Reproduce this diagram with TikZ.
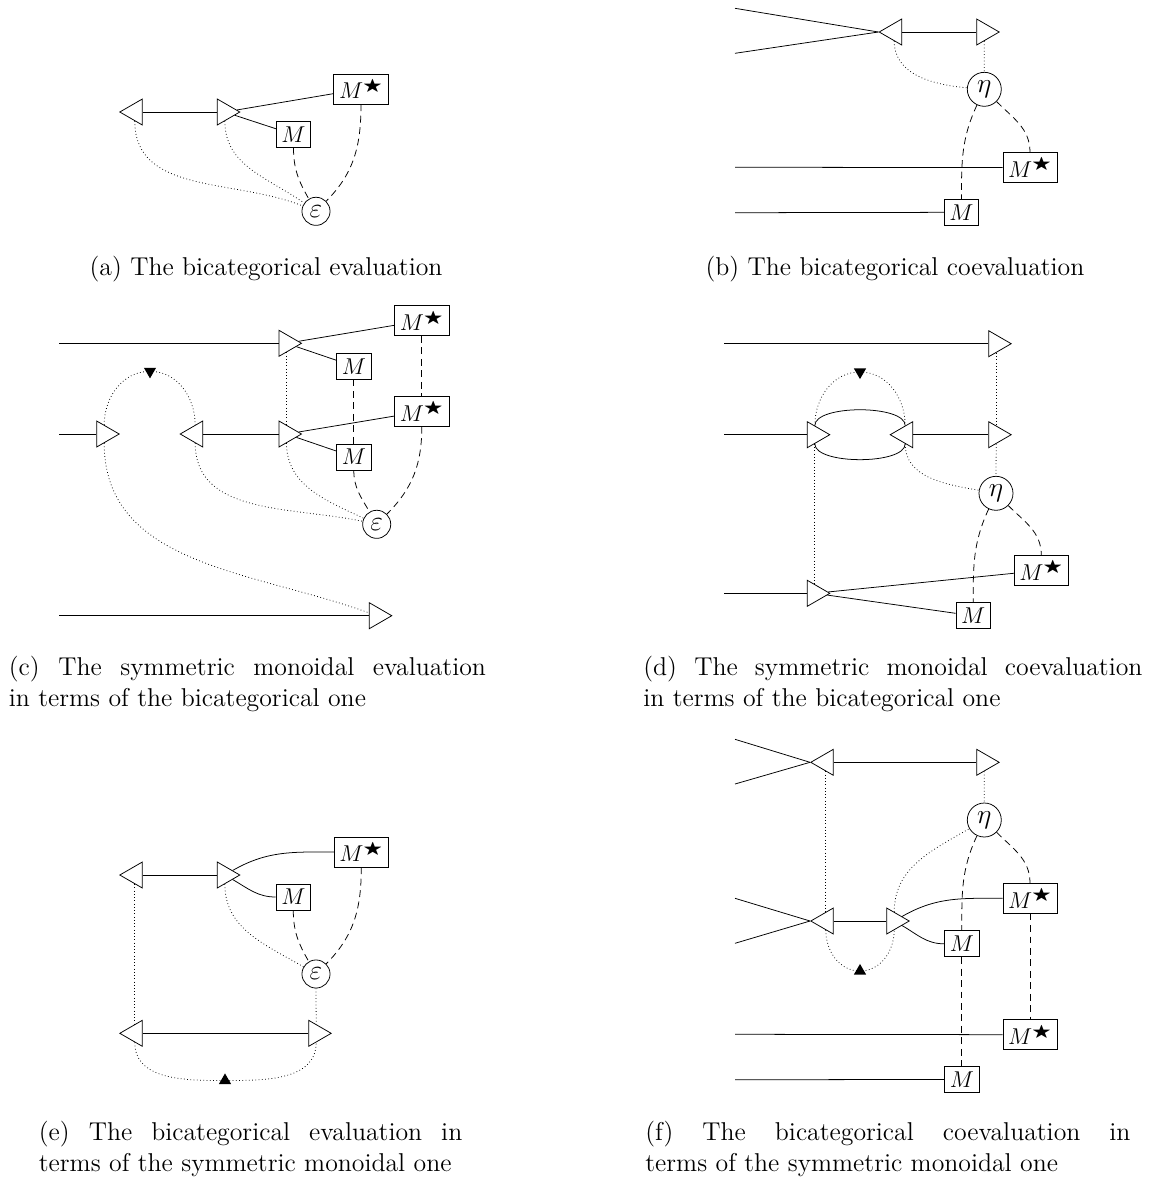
\documentclass[tikz,border=0pt]{standalone}
\usepackage{amssymb}
\usepackage{graphicx}
\usetikzlibrary{shapes.geometric}
\newcommand{\Mst}{$M^{\scalebox{1.3}[1.05]{$\scriptstyle\bigstar$}}$}
\begin{document}
\begin{tikzpicture}[x=0.5236pt, y=-0.5236pt,
  tri/.style={regular polygon, regular polygon sides=3, draw, fill=white, inner sep=0pt, minimum size=15.7pt},
  tR/.style={tri, shape border rotate=-90},
  tL/.style={tri, shape border rotate=90},
  mkdown/.style={regular polygon, regular polygon sides=3, fill=black, inner sep=0pt, minimum size=7.4pt, shape border rotate=180},
  mkup/.style={regular polygon, regular polygon sides=3, fill=black, inner sep=0pt, minimum size=7.4pt},
  box/.style={draw, fill=white, inner sep=2.7pt, font=\fontsize{11.5}{13}\selectfont},
  epsn/.style={circle, draw, fill=white, inner sep=0pt, minimum size=14.7pt, font=\fontsize{15}{15}\selectfont},
  etan/.style={circle, draw, fill=white, inner sep=0pt, minimum size=17.8pt, font=\fontsize{15}{15}\selectfont},
  dw/.style={dash pattern=on 3.6pt off 2.4pt},
  dt/.style={dash pattern=on 0.4pt off 1.3pt},
  capt/.style={font=\fontsize{13.5}{16.2}\selectfont, inner sep=0pt},
  capj/.style={capt, align=justify, anchor=north west}
]
\useasboundingbox (0,0) rectangle (1151,1180);

% ---------------- (a)
\node[tL] (LA) at (134.8,112) {};
\node[tR] (RA) at (224.8,112) {};
\node[box] (MsA) at (361,89) {\Mst};
\node[box] (MA) at (293.5,134.5) {$M$};
\node[epsn] (eA) at (316,211.3) {$\varepsilon$};
\draw (LA) -- (RA);
\draw (RA) -- (MsA);
\draw (RA) -- (MA);
\draw[dw] (MA) to[out=-90,in=120] (eA);
\draw[dw] (MsA) to[out=-90,in=45] (eA);
\draw[dt] (LA) to[out=-90,in=158] (eA);
\draw[dt] (RA) to[out=-90,in=145] (eA);
\node[capt, anchor=base] (capA) at (266,275) {(a) The bicategorical evaluation};

% ---------------- (b)
\coordinate (b1) at (735,8.3);
\coordinate (b2) at (735,53.3);
\coordinate (b3) at (735,167.3);
\coordinate (b4) at (735,212.7);
\node[tL] (LB) at (894.2,32) {};
\node[tR] (RB) at (984.2,32) {};
\node[etan] (hB) at (984.3,89.3) {$\eta$};
\node[box] (MsB) at (1030,167.5) {\Mst};
\node[box] (MB) at (961.5,212.3) {$M$};
\draw (b1) -- (LB.corner 1);
\draw (b2) -- (LB.corner 1);
\draw (LB) -- (RB);
\draw[dt] (RB) -- (hB);
\draw[dt] (LB) to[out=-90,in=175] (hB);
\draw[dw] (hB) to[out=-115,in=90] (MB);
\draw[dw] (hB) to[out=-45,in=90] (MsB);
\draw (b3) -- (MsB);
\draw (b4) -- (MB);
\node[capt, anchor=base] (capB) at (895,275) {(b) The bicategorical coevaluation};

% ---------------- (c)
\coordinate (c1) at (59.3,343.3);
\coordinate (c2) at (59.3,434);
\coordinate (c3) at (59.3,615.7);
\node[tR] (RC1) at (286.5,343.3) {};
\node[tR] (RC0) at (104.2,434) {};
\node[tL] (LC) at (195.2,434) {};
\node[tR] (RC2) at (286.5,434) {};
\node[tR] (RC3) at (376.8,615.7) {};
\node[box] (MsC1) at (421.8,320.7) {\Mst};
\node[box] (MC1) at (353.8,366.2) {$M$};
\node[box] (MsC2) at (421.8,411.5) {\Mst};
\node[box] (MC2) at (353.8,457) {$M$};
\node[epsn] (eC) at (376.7,524.3) {$\varepsilon$};
\node[mkdown] (kC) at (150,371.3) {};
\draw (c1) -- (RC1);
\draw (c2) -- (RC0);
\draw (c3) -- (RC3);
\draw (LC) -- (RC2);
\draw (RC1) -- (MsC1);
\draw (RC1) -- (MC1);
\draw (RC2) -- (MsC2);
\draw (RC2) -- (MC2);
\draw[dw] (MC1) -- (MC2);
\draw[dw] (MsC1) -- (MsC2);
\draw[dw] (MC2) to[out=-90,in=120] (eC);
\draw[dw] (MsC2) to[out=-90,in=45] (eC);
\draw[dt] (RC1) -- (RC2);
\draw[dt] (RC2) to[out=-90,in=155] (eC);
\draw[dt] (LC) to[out=-90,in=168] (eC);
\draw[dt] (RC0) to[out=90,in=180] (kC.center) to[out=0,in=90] (LC);
\draw[dt] (RC0) to[out=-90,in=160] (RC3);
\node[capj, text width=249.8pt] (capC) at (8.5,655.7) {(c) The symmetric monoidal evaluation\linebreak in terms of the bicategorical one};

% ---------------- (d)
\coordinate (d1) at (724,343.7);
\coordinate (d2) at (724,434.7);
\coordinate (d3) at (724,593.3);
\node[tR] (RD1) at (996.2,343.7) {};
\node[tR] (RD0) at (814.8,434.7) {};
\node[tL] (LD) at (905.2,434.7) {};
\node[tR] (RD3) at (996.2,434.7) {};
\node[tR] (RD2) at (814.8,593.3) {};
\node[etan] (hD) at (996,493.3) {$\eta$};
\node[box] (MsD) at (1041.3,570.5) {\Mst};
\node[box] (MD) at (973.2,615.8) {$M$};
\node[mkdown] (kD) at (860,372) {};
\draw (d1) -- (RD1);
\draw (d2) -- (RD0);
\draw (d3) -- (RD2);
\draw (LD) -- (RD3);
\draw (RD0) to[out=90,in=90,looseness=0.6] (LD);
\draw (RD0) to[out=-90,in=-90,looseness=0.6] (LD);
\draw[dt] (RD0) to[out=90,in=180] (kD.center) to[out=0,in=90] (LD);
\draw[dt] (RD0) -- (RD2);
\draw[dt] (RD1) -- (RD3);
\draw[dt] (RD3) -- (hD);
\draw[dt] (LD) to[out=-90,in=170] (hD);
\draw[dw] (hD) to[out=-115,in=90] (MD);
\draw[dw] (hD) to[out=-45,in=90] (MsD);
\draw (RD2) -- (MsD);
\draw (RD2) -- (MD);
\node[capj, text width=261.3pt] (capD) at (643,655.7) {(d) The symmetric monoidal coevaluation\linebreak in terms of the bicategorical one};

% ---------------- (e)
\node[tL] (LE1) at (134.8,875) {};
\node[tR] (RE1) at (224.8,875) {};
\node[box] (MsE) at (361.3,852) {\Mst};
\node[box] (ME) at (293.3,897) {$M$};
\node[epsn] (eE) at (316,974) {$\varepsilon$};
\node[tL] (LE2) at (134.8,1033.3) {};
\node[tR] (RE2) at (316.2,1033.3) {};
\node[mkup] (kE) at (225,1080.5) {};
\draw (LE1) -- (RE1);
\draw (LE2) -- (RE2);
\draw (RE1) to[out=30,in=180] (MsE);
\draw (RE1) to[out=-30,in=180] (ME);
\draw[dw] (ME) to[out=-90,in=120] (eE);
\draw[dw] (MsE) to[out=-90,in=45] (eE);
\draw[dt] (RE1) to[out=-90,in=150] (eE);
\draw[dt] (LE1) -- (LE2);
\draw[dt] (eE) -- (RE2);
\draw[dt] (LE2) to[out=-90,in=180] (kE.center) to[out=0,in=-90] (RE2);
\node[capj, text width=221.7pt] (capE) at (38.5,1120.7) {(e) The bicategorical evaluation in\linebreak terms of the symmetric monoidal one};

% ---------------- (f)
\coordinate (f1) at (735,739.3);
\coordinate (f2) at (735,784);
\coordinate (f3) at (735,898.3);
\coordinate (f4) at (735,943.3);
\coordinate (f5) at (735,1034.3);
\coordinate (f6) at (735,1079.7);
\node[tL] (LF1) at (825.8,762.3) {};
\node[tR] (RF1) at (984.2,762.3) {};
\node[etan] (hF) at (984.3,820) {$\eta$};
\node[tL] (LF2) at (825.8,921) {};
\node[tR] (RF2) at (894.2,921) {};
\node[box] (MsF1) at (1030,898.3) {\Mst};
\node[box] (MF1) at (961.8,943.8) {$M$};
\node[box] (MsF2) at (1030,1034.7) {\Mst};
\node[box] (MF2) at (961.8,1079.5) {$M$};
\node[mkup] (kF) at (860,971) {};
\draw (f1) -- (LF1.corner 1);
\draw (f2) -- (LF1.corner 1);
\draw (f3) -- (LF2.corner 1);
\draw (f4) -- (LF2.corner 1);
\draw (LF1) -- (RF1);
\draw (LF2) -- (RF2);
\draw[dt] (RF1) -- (hF);
\draw[dt] (LF1) -- (LF2);
\draw[dt] (LF2) to[out=-90,in=180] (kF.center) to[out=0,in=-90] (RF2);
\draw[dt] (RF2) to[out=90,in=210] (hF);
\draw (RF2) to[out=30,in=180] (MsF1);
\draw (RF2) to[out=-30,in=180] (MF1);
\draw[dw] (hF) to[out=-115,in=90] (MF1);
\draw[dw] (hF) to[out=-45,in=90] (MsF1);
\draw[dw] (MF1) -- (MF2);
\draw[dw] (MsF1) -- (MsF2);
\draw (f5) -- (MsF2);
\draw (f6) -- (MF2);
\node[capj, text width=254pt] (capF) at (645,1120.7) {(f) The bicategorical coevaluation in\linebreak terms of the symmetric monoidal one};
\end{tikzpicture}
\end{document}
